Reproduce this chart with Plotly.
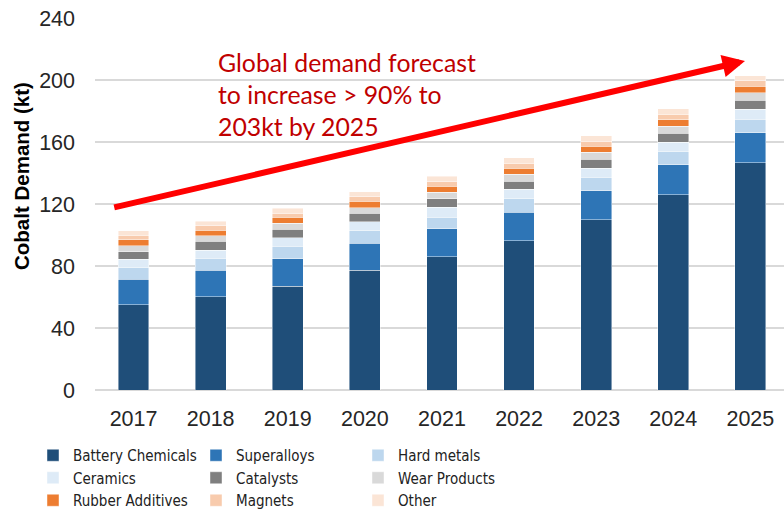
import plotly.graph_objects as go

# Cobalt demand by end use, kt
years = ["2017", "2018", "2019", "2020", "2021", "2022", "2023", "2024", "2025"]

battery_chemicals = [55.0, 60.2, 67.1, 77.2, 86.0, 96.3, 109.7, 126.0, 146.6]
superalloys = [16.4, 17.2, 17.6, 17.4, 17.9, 18.5, 18.7, 19.2, 19.4]
hard_metals = [7.5, 7.6, 8.2, 8.2, 7.7, 8.6, 8.8, 8.6, 8.8]
ceramics = [5.4, 5.3, 5.4, 5.8, 6.2, 6.1, 5.8, 6.0, 6.2]
catalysts = [4.9, 5.7, 5.4, 5.4, 5.6, 5.3, 5.8, 5.8, 6.1]
wear_products = [3.9, 3.4, 3.8, 3.6, 4.1, 4.3, 4.5, 4.7, 4.7]
rubber_additives = [3.7, 3.6, 3.9, 4.1, 3.9, 3.9, 3.9, 3.9, 4.1]
magnets = [3.2, 3.0, 2.6, 3.0, 3.0, 3.2, 3.4, 3.7, 3.5]
other = [2.6, 3.0, 3.2, 3.2, 3.6, 3.7, 3.4, 3.4, 3.4]

y_ticks = [0, 40, 80, 120, 160, 200, 240]

series = [
    ("Battery Chemicals", battery_chemicals, "#1F4E79", "legend"),
    ("Superalloys", superalloys, "#2E75B6", "legend2"),
    ("Hard metals", hard_metals, "#BDD7EE", "legend3"),
    ("Ceramics", ceramics, "#DEEBF7", "legend"),
    ("Catalysts", catalysts, "#7F7F7F", "legend2"),
    ("Wear Products", wear_products, "#D9D9D9", "legend3"),
    ("Rubber Additives", rubber_additives, "#ED7D31", "legend"),
    ("Magnets", magnets, "#F8CBAD", "legend2"),
    ("Other", other, "#FBE5D6", "legend3"),
]

fig = go.Figure()
for name, vals, color, leg in series:
    fig.add_trace(go.Bar(
        x=years, y=vals, name=name,
        marker=dict(color=color, line=dict(color="rgba(255,255,255,0.55)", width=0.8)),
        legend=leg,
    ))

# pixel helpers for paper coordinates (plot area: x 95..784, y 18..390)
def px(xp):
    return (xp - 95) / 689.0

def py(yp):
    return (390 - yp) / 372.0

legend_font = dict(family="DejaVu Sans Condensed, Arial Narrow, Liberation Sans, sans-serif",
                   size=15, color="#222222")
legend_common = dict(orientation="v", xanchor="left", yanchor="top", y=py(439),
                     font=legend_font, bgcolor="rgba(0,0,0,0)", tracegroupgap=0,
                     itemwidth=30, traceorder="normal")

fig.update_layout(
    width=784, height=512,
    margin=dict(l=95, r=0, t=18, b=122, autoexpand=False),
    barmode="stack",
    bargap=0.6,
    plot_bgcolor="white",
    paper_bgcolor="white",
    font=dict(family="Liberation Sans, Arial, sans-serif", color="#262626"),
    legend=dict(x=px(33), **legend_common),
    legend2=dict(x=px(196), **legend_common),
    legend3=dict(x=px(358), **legend_common),
    xaxis=dict(
        range=[-0.5, 8.436],
        tickfont=dict(size=21.5, color="#262626"),
        ticks="", showline=False, showgrid=False,
        ticklabelstandoff=13,
    ),
    yaxis=dict(
        range=[0, 240],
        tickvals=y_ticks,
        tickfont=dict(size=21.5, color="#262626"),
        showgrid=True, gridcolor="#D9D9D9", gridwidth=1.5,
        zeroline=True, zerolinecolor="#D9D9D9", zerolinewidth=1.5,
        ticks="", showline=False,
        ticklabelstandoff=19,
    ),
)

# axis title
fig.add_annotation(
    text="<b>Cobalt Demand (kt)</b>", textangle=-90,
    xref="paper", yref="paper", x=px(22), y=py(176),
    xanchor="center", yanchor="middle", showarrow=False,
    font=dict(size=20.5, color="#000000", family="Liberation Sans, Arial, sans-serif"),
)

# growth arrow
fig.add_annotation(
    x=7.93, y=212.3, ax=-0.27, ay=117.6,
    xref="x", yref="y", axref="x", ayref="y",
    showarrow=True, arrowhead=2, arrowsize=0.75, arrowwidth=6,
    arrowcolor="#FF0000", text="", standoff=0, startstandoff=0,
)

# forecast callout
fig.add_annotation(
    text="Global demand forecast<br>to increase > 90% to<br>203kt by 2025",
    xref="paper", yref="paper", x=px(216), y=py(94),
    xanchor="left", yanchor="middle", align="left", showarrow=False,
    font=dict(size=24.8, color="#C00000", family="Lato, Open Sans, sans-serif"),
)

fig.write_html("out.html")
